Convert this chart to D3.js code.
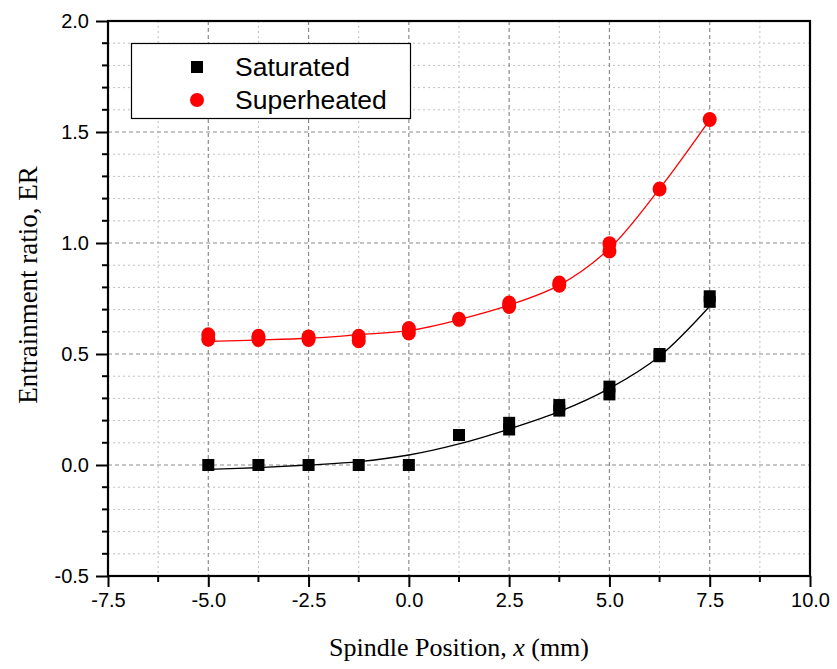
<!DOCTYPE html>
<html>
<head>
<meta charset="utf-8">
<script src="https://cdn.jsdelivr.net/npm/d3@7"></script>
<style>
  body { margin: 0; background: #fff; }
  svg { display: block; }
</style>
</head>
<body>
<div id="chart"></div>
<script>
const satX = [-5, -3.75, -2.5, -1.25, 0, 1.25, 2.5, 2.5, 3.75, 3.75, 5, 5, 6.25, 6.25, 7.5, 7.5];
const satY = [0, 0, 0, 0, 0, 0.135, 0.19, 0.16, 0.27, 0.245, 0.353, 0.318, 0.5, 0.49, 0.76, 0.735];

const supX = [-5, -5, -3.75, -3.75, -2.5, -2.5, -1.25, -1.25, 0, 0, 1.25, 2.5, 2.5, 3.75, 3.75, 5, 5, 6.25, 7.5];
const supY = [0.587, 0.567, 0.58, 0.565, 0.577, 0.565, 0.58, 0.56, 0.615, 0.595, 0.656, 0.73, 0.714, 0.82, 0.81, 0.997, 0.964, 1.243, 1.556];

// fitted curves, sampled at the spindle positions
const fitX = [-5, -3.75, -2.5, -1.25, 0, 1.25, 2.5, 3.75, 5, 6.25, 7.5];
const satFit = [-0.02, -0.012, 0.0, 0.015, 0.045, 0.095, 0.162, 0.24, 0.345, 0.49, 0.715];
const supFit = [0.557, 0.563, 0.571, 0.587, 0.605, 0.655, 0.72, 0.81, 0.975, 1.245, 1.555];

const xTicks = [-7.5, -5, -2.5, 0, 2.5, 5, 7.5, 10];
const yTicks = [-0.5, 0, 0.5, 1, 1.5, 2];

const legendLabels = ["Saturated", "Superheated"];

const width = 837, height = 669;
const plotL = 108, plotR = 810, plotT = 21, plotB = 576;

const svg = d3.select("#chart").append("svg")
  .attr("width", width)
  .attr("height", height);

const x = d3.scaleLinear().domain([-7.5, 10]).range([plotL, plotR]);
const y = d3.scaleLinear().domain([-0.5, 2]).range([plotB, plotT]);

// plain hyphen for negatives, like the original
const fmt = d => d.toFixed(1);

// minor ticks
const xMinor = d3.range(-7.5, 10.01, 1.25).filter(v => !xTicks.some(t => Math.abs(t - v) < 1e-6));
const yMinor = d3.range(-0.5, 2.001, 0.1).filter(v => !yTicks.some(t => Math.abs(t - v) < 1e-6));

// grid
const grid = svg.append("g");
grid.selectAll(".gxm").data(xMinor).enter().append("line")
  .attr("x1", d => x(d)).attr("x2", d => x(d))
  .attr("y1", plotT).attr("y2", plotB)
  .attr("stroke", "#c0c0c0").attr("stroke-dasharray", "2,3").attr("stroke-width", 1);
grid.selectAll(".gym").data(yMinor).enter().append("line")
  .attr("x1", plotL).attr("x2", plotR)
  .attr("y1", d => y(d)).attr("y2", d => y(d))
  .attr("stroke", "#c0c0c0").attr("stroke-dasharray", "2,3").attr("stroke-width", 1);
grid.selectAll(".gx").data(xTicks.slice(1, -1)).enter().append("line")
  .attr("x1", d => x(d)).attr("x2", d => x(d))
  .attr("y1", plotT).attr("y2", plotB)
  .attr("stroke", "#8c8c8c").attr("stroke-dasharray", "4,3").attr("stroke-width", 1.2);
grid.selectAll(".gy").data(yTicks.slice(1, -1)).enter().append("line")
  .attr("x1", plotL).attr("x2", plotR)
  .attr("y1", d => y(d)).attr("y2", d => y(d))
  .attr("stroke", "#8c8c8c").attr("stroke-dasharray", "4,3").attr("stroke-width", 1.2);

// fit curves
const line = d3.line()
  .x((d, i) => x(fitX[i]))
  .y(d => y(d))
  .curve(d3.curveCatmullRom);

svg.append("path").datum(satFit)
  .attr("d", line).attr("fill", "none")
  .attr("stroke", "#000").attr("stroke-width", 1.3);
svg.append("path").datum(supFit)
  .attr("d", line).attr("fill", "none")
  .attr("stroke", "#ff0000").attr("stroke-width", 1.3);

// markers
const sq = 12;
svg.append("g").selectAll("rect").data(satY).enter().append("rect")
  .attr("x", (d, i) => x(satX[i]) - sq / 2)
  .attr("y", d => y(d) - sq / 2)
  .attr("width", sq).attr("height", sq)
  .attr("fill", "#000");

svg.append("g").selectAll("ellipse").data(supY).enter().append("ellipse")
  .attr("cx", (d, i) => x(supX[i]))
  .attr("cy", d => y(d))
  .attr("rx", 7).attr("ry", 7.5)
  .attr("fill", "#ff0000");

// axes
const xAxis = d3.axisBottom(x).tickValues(xTicks).tickFormat(fmt).tickSize(11).tickPadding(6);
const yAxis = d3.axisLeft(y).tickValues(yTicks).tickFormat(fmt).tickSize(12).tickPadding(7);

const gx = svg.append("g").attr("transform", `translate(0,${plotB})`).call(xAxis);
const gy = svg.append("g").attr("transform", `translate(${plotL},0)`).call(yAxis);

[gx, gy].forEach(g => {
  g.select(".domain").remove();
  g.selectAll(".tick line").attr("stroke", "#000").attr("stroke-width", 2);
  g.selectAll(".tick text")
    .attr("fill", "#000")
    .style("font-family", "'Liberation Sans', Arial, sans-serif")
    .style("font-size", "20px");
});

svg.append("g").selectAll("line").data(xMinor).enter().append("line")
  .attr("x1", d => x(d)).attr("x2", d => x(d))
  .attr("y1", plotB).attr("y2", plotB + 6)
  .attr("stroke", "#000").attr("stroke-width", 2);
svg.append("g").selectAll("line").data(yMinor).enter().append("line")
  .attr("x1", plotL - 6).attr("x2", plotL)
  .attr("y1", d => y(d)).attr("y2", d => y(d))
  .attr("stroke", "#000").attr("stroke-width", 2);

// frame
svg.append("rect")
  .attr("x", plotL).attr("y", plotT)
  .attr("width", plotR - plotL).attr("height", plotB - plotT)
  .attr("fill", "none").attr("stroke", "#000").attr("stroke-width", 2.2);

// axis titles
svg.append("text")
  .attr("x", (plotL + plotR) / 2).attr("y", 656)
  .attr("text-anchor", "middle")
  .style("font-family", "'Liberation Serif', 'Times New Roman', serif")
  .style("font-size", "26px")
  .html("Spindle Position, <tspan font-style='italic'>x</tspan> (mm)");

svg.append("text")
  .attr("transform", "translate(37,285) rotate(-90)")
  .attr("text-anchor", "middle")
  .style("font-family", "'Liberation Serif', 'Times New Roman', serif")
  .style("font-size", "27px")
  .text("Entrainment ratio, ER");

// legend
const lg = svg.append("g");
lg.append("rect")
  .attr("x", 131.5).attr("y", 43.5)
  .attr("width", 279).attr("height", 75)
  .attr("fill", "#fff").attr("stroke", "#000").attr("stroke-width", 1.2);
lg.append("rect")
  .attr("x", 197 - sq / 2).attr("y", 67 - sq / 2)
  .attr("width", sq).attr("height", sq).attr("fill", "#000");
lg.append("circle")
  .attr("cx", 197).attr("cy", 100).attr("r", 7).attr("fill", "#ff0000");
lg.selectAll("text").data(legendLabels).enter().append("text")
  .attr("x", 235)
  .attr("y", (d, i) => 76 + i * 33)
  .style("font-family", "'Liberation Sans', Arial, sans-serif")
  .style("font-size", "26.5px")
  .text(d => d);
</script>
</body>
</html>
